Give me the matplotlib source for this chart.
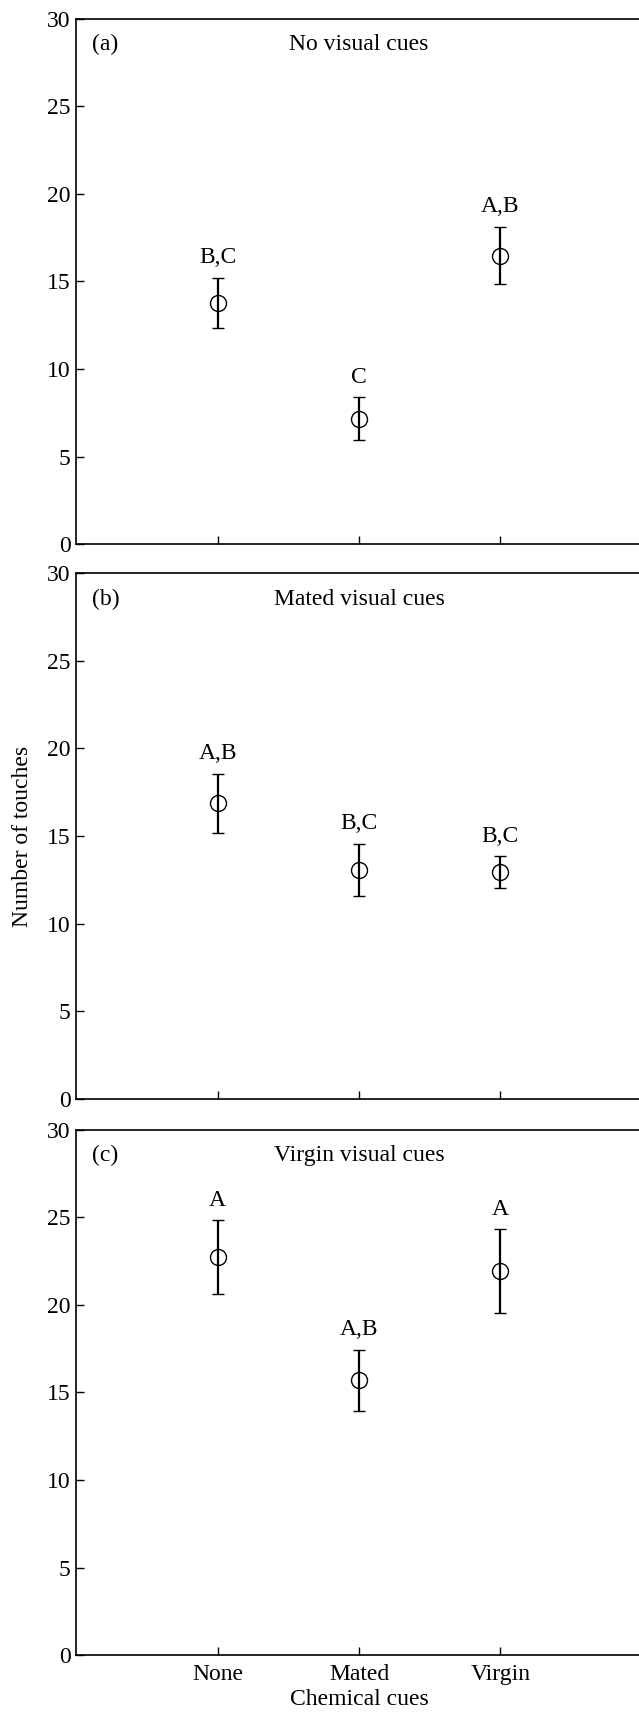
#!/usr/bin/env python3
"""
Number of touches by chemical cue, split by visual cue treatment (3 stacked panels).
Writes out.png.
"""

import matplotlib
matplotlib.use('Agg')
import matplotlib.pyplot as plt

plt.rcParams['font.family'] = ['Liberation Serif', 'DejaVu Serif']
plt.rcParams['font.size'] = 17

# ─── Data ────────────────────────────────────────────────────────────────────
chemical_cues = ['None', 'Mated', 'Virgin']
panel_tags = ['(a)', '(b)', '(c)']
panel_titles = ['No visual cues', 'Mated visual cues', 'Virgin visual cues']

means_none_visual = [13.78, 7.16, 16.47]
se_none_visual = [1.43, 1.22, 1.63]
letters_none_visual = ['B,C', 'C', 'A,B']

means_mated_visual = [16.86, 13.08, 12.94]
se_mated_visual = [1.70, 1.49, 0.90]
letters_mated_visual = ['A,B', 'B,C', 'B,C']

means_virgin_visual = [22.72, 15.70, 21.91]
se_virgin_visual = [2.09, 1.74, 2.40]
letters_virgin_visual = ['A', 'A,B', 'A']

y_ticks = [0, 5, 10, 15, 20, 25, 30]

panels = [
    (means_none_visual, se_none_visual, letters_none_visual),
    (means_mated_visual, se_mated_visual, letters_mated_visual),
    (means_virgin_visual, se_virgin_visual, letters_virgin_visual),
]

fig = plt.figure(figsize=(6.39, 17.17), dpi=100)
left = 76.2 / 639
width = 565.6 / 639
height = 525.8 / 1717
bottoms = [1172.7 / 1717, 618.1 / 1717, 61.7 / 1717]

x = [1, 2, 3]
for i, ((means, ses, letters), tag, title) in enumerate(zip(panels, panel_tags, panel_titles)):
    ax = fig.add_axes([left, bottoms[i], width, height])
    ax.errorbar(x, means, yerr=ses, fmt='o', color='black', ecolor='black',
                markerfacecolor='none', markeredgecolor='black', markersize=11.5,
                markeredgewidth=1.0, elinewidth=1.6, capsize=4, capthick=1.6)
    for xi, m, s, lab in zip(x, means, ses, letters):
        ax.annotate(lab, (xi, m + s), xytext=(0, 7), textcoords='offset points',
                    ha='center', va='bottom')
    ax.text(0.11, 28.5, tag, ha='left', va='center')
    ax.text(2.0, 28.5, title, ha='center', va='center')

    ax.set_xlim(0, 4)
    ax.set_ylim(0, 30)
    ax.set_yticks(y_ticks)
    ax.set_xticks(x)
    ax.spines['right'].set_visible(False)
    for sp in ax.spines.values():
        sp.set_linewidth(1.2)
    ax.tick_params(direction='in', length=5.5, width=1.0, pad=4)
    ax.tick_params(axis='x', pad=6)

    if i == 2:
        ax.set_xticklabels(chemical_cues)
        ax.set_xlabel('Chemical cues', labelpad=3)
    else:
        ax.set_xticklabels([])
    if i == 1:
        ax.set_ylabel('Number of touches', labelpad=10)

plt.savefig('out.png', dpi=100)
plt.close()
print('saved out.png')
